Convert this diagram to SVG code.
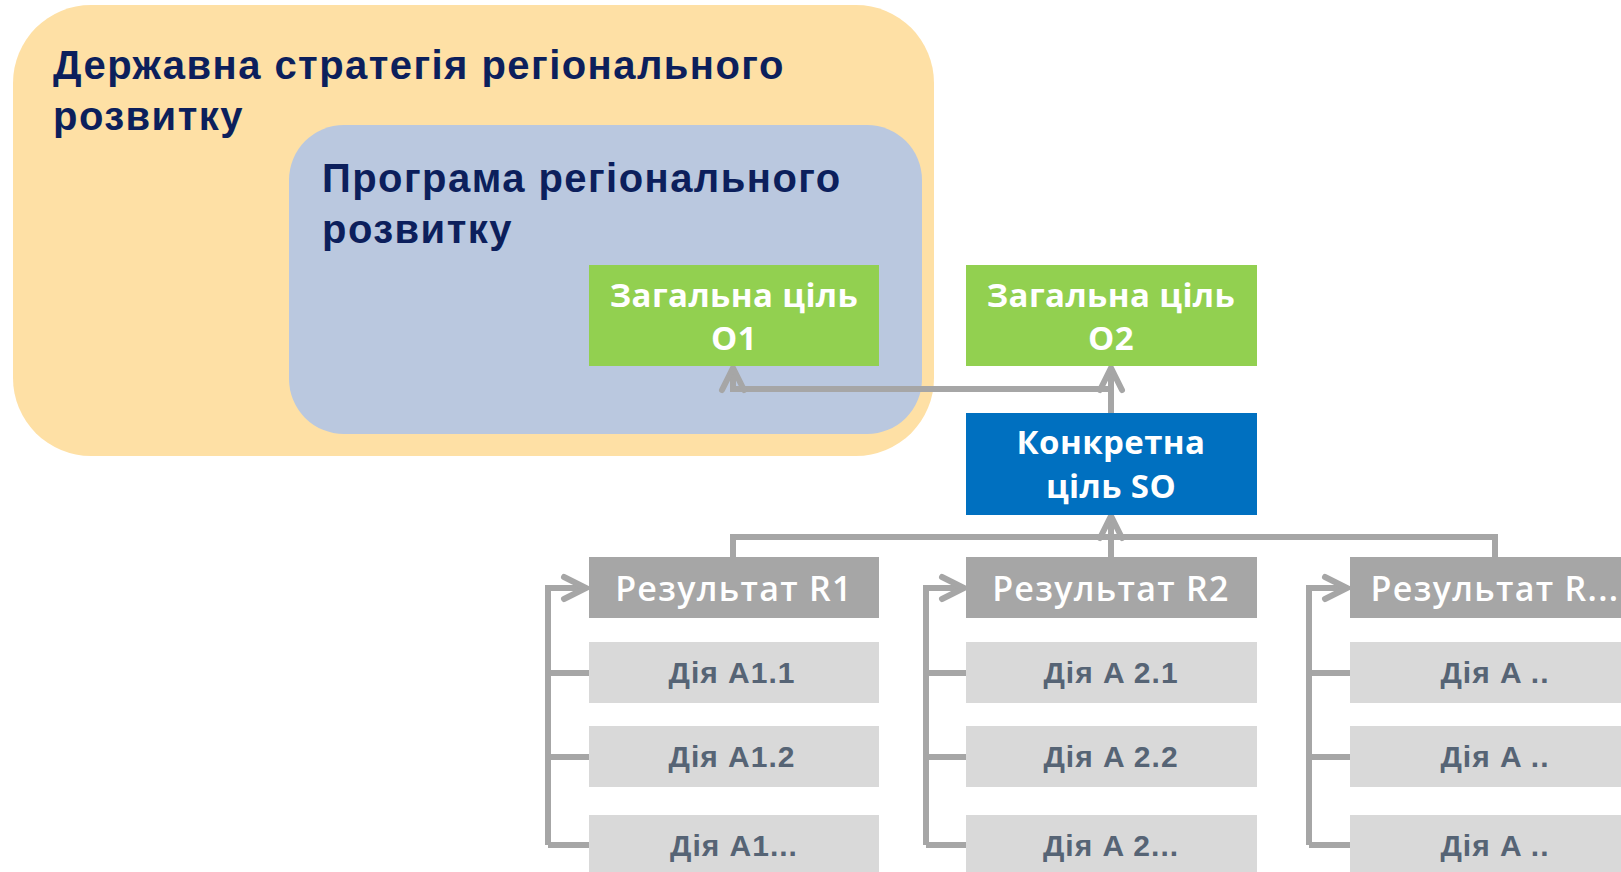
<svg xmlns="http://www.w3.org/2000/svg" width="1621" height="872" viewBox="0 0 1621 872">
<style>
.title{font-family:"Liberation Sans",Arial,sans-serif;font-weight:700;font-size:40px;fill:#0c1f5c;letter-spacing:1.45px}
.wt{font-family:"Open Sans","Noto Sans",sans-serif;font-weight:700;fill:#ffffff;text-anchor:middle}
.goal{font-size:33px;letter-spacing:0.4px}
.res{font-size:34px;font-weight:600;letter-spacing:1.3px}
.act{font-family:"Liberation Sans",Arial,sans-serif;font-weight:700;font-size:30px;fill:#566475;text-anchor:middle;letter-spacing:1px}
.con{fill:none;stroke:#a6a6a6;stroke-width:6;stroke-linejoin:miter}
.resbox{fill:#a6a6a6}
.actbox{fill:#d9d9d9}
</style>
<defs>
<marker id="arr" markerUnits="userSpaceOnUse" viewBox="-30 -16 34 32" refX="0" refY="0" markerWidth="34" markerHeight="32" orient="auto" overflow="visible">
<path d="M-22,-11 L0,0 L-22,11" fill="none" stroke="#a6a6a6" stroke-width="6" stroke-linecap="round" stroke-linejoin="miter"/>
</marker>
</defs>
<g id="strategy">
<rect x="13" y="5" width="921" height="451" rx="78" ry="78" fill="#fee0a5"/>
<text class="title" x="53" y="79">Державна стратегія регіонального</text>
<text class="title" x="53" y="130">розвитку</text>
</g>
<g id="program">
<rect x="289" y="125" width="633" height="309" rx="55" ry="55" fill="#bac8df"/>
<text class="title" x="322" y="192">Програма регіонального</text>
<text class="title" x="322" y="243">розвитку</text>
</g>
<g id="connectors">
<path class="con" d="M1111,413 V368" marker-end="url(#arr)"/>
<path class="con" d="M1111,389 H733 V368" marker-end="url(#arr)"/>
<path class="con" d="M733,557 V537 H1495 V557"/>
<path class="con" d="M1111,557 V516" marker-end="url(#arr)"/>
<path class="con" d="M548,845 V588 H586" marker-end="url(#arr)"/>
<path class="con" d="M548,673 H589 M548,757 H589 M548,845 H589"/>
<path class="con" d="M926,845 V588 H964" marker-end="url(#arr)"/>
<path class="con" d="M926,673 H967 M926,757 H967 M926,845 H967"/>
<path class="con" d="M1309,845 V588 H1347" marker-end="url(#arr)"/>
<path class="con" d="M1309,673 H1350 M1309,757 H1350 M1309,845 H1350"/>
</g>
<g id="goalO1">
<rect x="589" y="265" width="290" height="101" fill="#92d050"/>
<text class="wt goal" x="734" y="307">Загальна ціль</text>
<text class="wt goal" x="734" y="350">O1</text>
</g>
<g id="goalO2">
<rect x="966" y="265" width="291" height="101" fill="#92d050"/>
<text class="wt goal" x="1111" y="307">Загальна ціль</text>
<text class="wt goal" x="1111" y="350">O2</text>
</g>
<g id="specificSO">
<rect x="966" y="413" width="291" height="102" fill="#0070c0"/>
<text class="wt goal" x="1111" y="454">Конкретна</text>
<text class="wt goal" x="1111" y="498">ціль SO</text>
</g>
<g id="resultR1">
<rect class="resbox" x="589" y="557" width="290" height="61"/>
<text class="wt res" x="734" y="601">Результат R1</text>
</g>
<g id="resultR2">
<rect class="resbox" x="966" y="557" width="291" height="61"/>
<text class="wt res" x="1111" y="601">Результат R2</text>
</g>
<g id="resultRn">
<rect class="resbox" x="1350" y="557" width="291" height="61"/>
<text class="wt res" x="1495" y="601">Результат R...</text>
</g>
<g id="actionA11"><rect class="actbox" x="589" y="642" width="290" height="61"/><text class="act" x="732" y="683">Дія A1.1</text></g>
<g id="actionA12"><rect class="actbox" x="589" y="726" width="290" height="61"/><text class="act" x="732" y="767">Дія A1.2</text></g>
<g id="actionA1n"><rect class="actbox" x="589" y="815" width="290" height="61"/><text class="act" x="734" y="856">Дія A1...</text></g>
<g id="actionA21"><rect class="actbox" x="966" y="642" width="291" height="61"/><text class="act" x="1111" y="683">Дія A 2.1</text></g>
<g id="actionA22"><rect class="actbox" x="966" y="726" width="291" height="61"/><text class="act" x="1111" y="767">Дія A 2.2</text></g>
<g id="actionA2n"><rect class="actbox" x="966" y="815" width="291" height="61"/><text class="act" x="1111" y="856">Дія A 2...</text></g>
<g id="actionAn1"><rect class="actbox" x="1350" y="642" width="291" height="61"/><text class="act" x="1495" y="683">Дія A ..</text></g>
<g id="actionAn2"><rect class="actbox" x="1350" y="726" width="291" height="61"/><text class="act" x="1495" y="767">Дія A ..</text></g>
<g id="actionAn3"><rect class="actbox" x="1350" y="815" width="291" height="61"/><text class="act" x="1495" y="856">Дія A ..</text></g>
</svg>
